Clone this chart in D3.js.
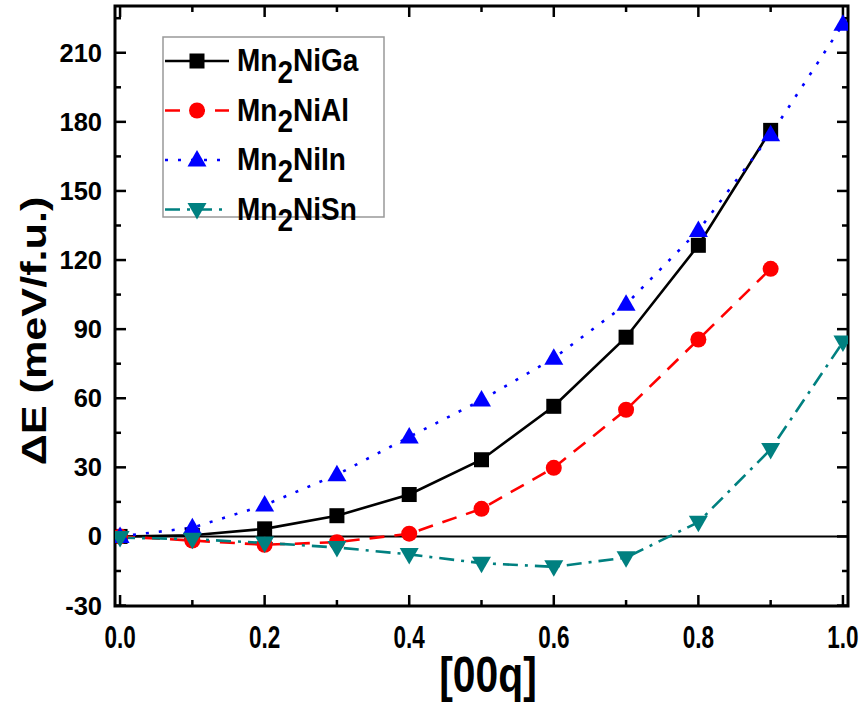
<!DOCTYPE html>
<html>
<head>
<meta charset="utf-8">
<script src="https://cdn.jsdelivr.net/npm/d3@7"></script>
<style>
  body { margin: 0; background: #fff; }
  svg text { font-family: "Liberation Sans", Arial, sans-serif; font-weight: bold; }
</style>
</head>
<body>
<svg width="865" height="704"></svg>
<script>
// q values along [00q]
const qGa = [0, 0.1, 0.2, 0.3, 0.4, 0.5, 0.6, 0.7, 0.8, 0.9];
const eGa = [0, 0.5, 3.3, 9.0, 18.2, 33.3, 56.5, 86.5, 126.4, 176.3];
const qAl = [0, 0.1, 0.2, 0.3, 0.4, 0.5, 0.6, 0.7, 0.8, 0.9];
const eAl = [0, -1.8, -3.6, -2.5, 1.2, 12.0, 29.8, 55.0, 85.5, 116.2];
const qIn = [0, 0.1, 0.2, 0.3, 0.4, 0.5, 0.6, 0.7, 0.8, 0.9, 1.0];
const eIn = [0, 3.8, 13.6, 26.8, 43.2, 59.2, 77.4, 100.8, 132.8, 174.4, 222.4];
const qSn = [0, 0.1, 0.2, 0.3, 0.4, 0.5, 0.6, 0.7, 0.8, 0.9, 1.0];
const eSn = [-0.5, -1.2, -2.8, -4.8, -7.8, -11.6, -13.2, -9.2, 6.2, 37.8, 84.4];

const seriesNames = ["NiGa", "NiAl", "NiIn", "NiSn"];
const xTicks = [0, 0.2, 0.4, 0.6, 0.8, 1.0];
const yTicks = [-30, 0, 30, 60, 90, 120, 150, 180, 210];

const series = [
  {name: seriesNames[0], q: qGa, e: eGa, color: "#000000", dash: null, marker: "square"},
  {name: seriesNames[1], q: qAl, e: eAl, color: "#ff0000", dash: "15,10", marker: "circle"},
  {name: seriesNames[2], q: qIn, e: eIn, color: "#0000ff", dash: "3,10", marker: "triangle"},
  {name: seriesNames[3], q: qSn, e: eSn, color: "#008080", dash: "15,7,3,7", marker: "triangleDown"}
];

const svg = d3.select("svg");
const L = 115, R = 848, T = 6, B = 606;

const x = d3.scaleLinear().domain([-0.007, 1.007]).range([L, R]);
const y = d3.scaleLinear().domain([-30.2, 230.3]).range([B, T]);

// frame
svg.append("rect").attr("x", L).attr("y", T).attr("width", R - L).attr("height", B - T)
  .attr("fill", "none").attr("stroke", "#000").attr("stroke-width", 3);

// inward ticks on all sides
const xMinor = d3.range(0, 11).map(i => i / 10);
const yMinor = d3.range(-30, 231, 15);
function tickLen(major) { return major ? 11 : 6; }
xMinor.forEach((v, i) => {
  const major = i % 2 === 0;
  svg.append("line").attr("x1", x(v)).attr("x2", x(v)).attr("y1", B).attr("y2", B - tickLen(major))
    .attr("stroke", "#000").attr("stroke-width", 2.5);
  svg.append("line").attr("x1", x(v)).attr("x2", x(v)).attr("y1", T).attr("y2", T + tickLen(major))
    .attr("stroke", "#000").attr("stroke-width", 2.5);
});
yMinor.forEach(v => {
  const major = v % 30 === 0;
  svg.append("line").attr("y1", y(v)).attr("y2", y(v)).attr("x1", L).attr("x2", L + tickLen(major))
    .attr("stroke", "#000").attr("stroke-width", 2.5);
  svg.append("line").attr("y1", y(v)).attr("y2", y(v)).attr("x1", R).attr("x2", R - tickLen(major))
    .attr("stroke", "#000").attr("stroke-width", 2.5);
});

// tick labels
svg.selectAll(".ylab").data(yTicks).enter().append("text")
  .attr("x", 102).attr("y", d => y(d) + 9)
  .attr("text-anchor", "end").attr("font-size", 25.5).text(d => d);
svg.selectAll(".xlab").data(xTicks).enter().append("text")
  .attr("transform", d => `translate(${x(d)},648) scale(0.9,1.25)`)
  .attr("text-anchor", "middle").attr("font-size", 25).text(d => d.toFixed(1));

// axis titles
svg.append("text").attr("transform", "translate(488,692) scale(0.95,1.15)")
  .attr("text-anchor", "middle").attr("font-size", 43).text("[00q]");
svg.append("text").attr("transform", "translate(46,331) rotate(-90) scale(1.2,1)")
  .attr("text-anchor", "middle").attr("font-size", 36).text("\u0394E (meV/f.u.)");

// zero line
svg.append("line").attr("x1", L).attr("x2", R).attr("y1", y(0)).attr("y2", y(0))
  .attr("stroke", "#000").attr("stroke-width", 2);

svg.append("defs").append("clipPath").attr("id", "clip")
  .append("rect").attr("x", L).attr("y", T).attr("width", R - L).attr("height", B - T);
const plot = svg.append("g").attr("clip-path", "url(#clip)");

function drawMarker(g, type, cx, cy, color) {
  if (type === "square") {
    g.append("rect").attr("x", cx - 7.5).attr("y", cy - 7.5).attr("width", 15).attr("height", 15).attr("fill", color);
  } else if (type === "circle") {
    g.append("circle").attr("cx", cx).attr("cy", cy).attr("r", 8).attr("fill", color);
  } else if (type === "triangle") {
    g.append("path").attr("d", `M${cx},${cy - 10}L${cx + 9.5},${cy + 6.5}L${cx - 9.5},${cy + 6.5}Z`).attr("fill", color);
  } else {
    g.append("path").attr("d", `M${cx},${cy + 10}L${cx + 9.5},${cy - 6.5}L${cx - 9.5},${cy - 6.5}Z`).attr("fill", color);
  }
}

const line = d3.line().x(d => x(d[0])).y(d => y(d[1]));
series.forEach(s => {
  const pts = s.q.map((q, i) => [q, s.e[i]]);
  plot.append("path").datum(pts).attr("d", line).attr("fill", "none")
    .attr("stroke", s.color).attr("stroke-width", 2.6)
    .attr("stroke-dasharray", s.dash);
});
series.forEach(s => {
  s.q.forEach((q, i) => drawMarker(plot, s.marker, x(q), y(s.e[i]), s.color));
});

// legend
const lg = svg.append("g");
lg.append("rect").attr("x", 163).attr("y", 37).attr("width", 221).attr("height", 180)
  .attr("fill", "#fff").attr("stroke", "#999").attr("stroke-width", 1.5);
series.forEach((s, i) => {
  const cy = 61 + i * 49.5;
  lg.append("line").attr("x1", 165).attr("x2", 229).attr("y1", cy).attr("y2", cy)
    .attr("stroke", s.color).attr("stroke-width", 2.6).attr("stroke-dasharray", s.dash);
  drawMarker(lg, s.marker, 197, cy, s.color);
  const t = lg.append("text").attr("transform", `translate(237,${cy + 10}) scale(1,1.15)`)
    .attr("font-size", 28);
  t.append("tspan").text("Mn");
  t.append("tspan").attr("dy", 10).text("2");
  t.append("tspan").attr("dy", -10).text(s.name);
});
</script>
</body>
</html>
